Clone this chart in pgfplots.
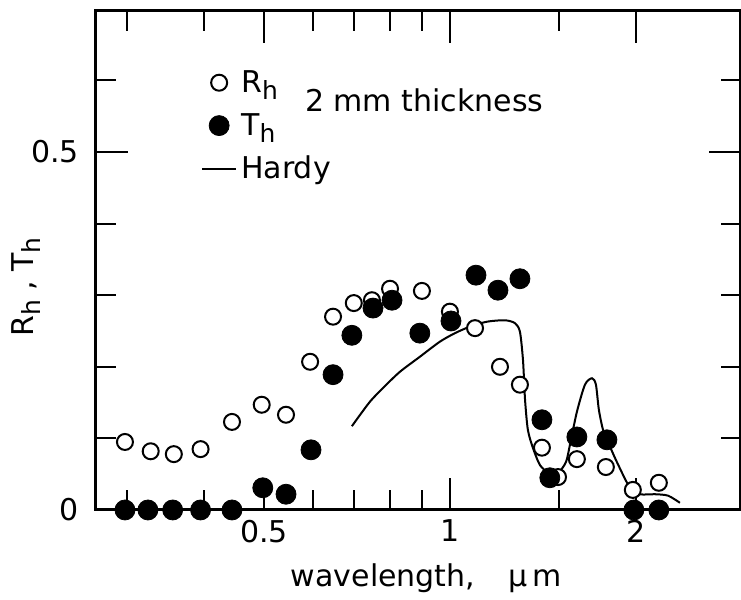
\documentclass[border=0pt]{standalone}
\usepackage{fontspec}
\setmainfont{DejaVu Sans}
\usepackage{pgfplots}
\pgfplotsset{compat=1.18}
\usetikzlibrary{calc}

\newcommand{\lbl}{\fontsize{15}{18}\selectfont}
\newcommand{\sub}[1]{\raisebox{-0.45ex}{\fontsize{12.5}{13}\selectfont #1}}

\begin{document}
\begin{tikzpicture}
\begin{axis}[
  scale only axis,
  width=322.5pt, height=249.5pt,
  xmode=log,
  xmin=0.2675, xmax=2.958,
  ymin=0, ymax=0.697,
  xtick={0.5,1,2}, xticklabels={0.5,1,2},
  minor xtick={0.3,0.4,0.6,0.7,0.8,0.9,1.5},
  ytick={0,0.5}, yticklabels={0,0.5},
  minor ytick={0.1,0.2,0.3,0.4,0.6},
  major tick length=16pt, minor tick length=10pt,
  every tick/.style={black, line width=1pt},
  axis line style={line width=1.5pt},
  tick label style={font=\lbl},
  xticklabel style={yshift=-1.5pt},
  yticklabel style={xshift=-5pt},
  label style={font=\lbl},
  xlabel={wavelength,\hspace{1.1em}µ\,m},
  xlabel style={at={(axis description cs:0.512,-0.136)}, anchor=center},
  ylabel={R\sub{h} , T\sub{h}},
  ylabel style={at={(axis description cs:-0.1085,0.447)}, anchor=center},
  legend style={at={(rel axis cs:0.153,0.898)}, anchor=north west,
    draw=none, fill=none, font=\lbl, row sep=5pt},
  legend cell align=left,
  clip=false,
]
% Hardy curve
\addplot[black, line width=1pt, smooth, tension=0.45, forget plot] coordinates {
  (0.694,0.117) (0.742,0.151) (0.785,0.173) (0.830,0.193) (0.894,0.214)
  (0.963,0.235) (1.019,0.247) (1.077,0.256) (1.148,0.263) (1.227,0.265)
  (1.274,0.261) (1.298,0.249) (1.313,0.209) (1.323,0.154) (1.337,0.112)
  (1.362,0.087) (1.398,0.063) (1.440,0.053) (1.496,0.052) (1.541,0.067)
  (1.564,0.091) (1.605,0.137) (1.654,0.175) (1.698,0.184) (1.723,0.175)
  (1.742,0.140) (1.769,0.112) (1.802,0.095) (1.863,0.067) (1.956,0.031)
  (2.030,0.022) (2.147,0.022) (2.254,0.020) (2.356,0.010)
};
% R_h (open)
\addplot[only marks, mark=*, mark size=4pt,
  mark options={fill=white, draw=black, line width=1pt}] coordinates {
  (0.298,0.095) (0.328,0.082) (0.3575,0.078) (0.395,0.085) (0.444,0.123)
  (0.496,0.147) (0.543,0.133) (0.594,0.207) (0.647,0.270) (0.699,0.289)
  (0.748,0.293) (0.800,0.309) (0.901,0.306) (1.000,0.277) (1.098,0.254)
  (1.205,0.200) (1.298,0.175) (1.409,0.087) (1.496,0.046) (1.605,0.071)
  (1.788,0.060) (1.977,0.028) (2.178,0.038)
};
\addlegendentry{R\sub{h}}
% T_h (filled)
\addplot[only marks, mark=*, mark size=5pt,
  mark options={fill=black, draw=black}] coordinates {
  (0.298,0) (0.3246,0) (0.356,0) (0.395,0) (0.444,0)
  (0.498,0.031) (0.543,0.022) (0.596,0.084) (0.647,0.189) (0.694,0.244)
  (0.751,0.282) (0.806,0.293) (0.894,0.247) (1.004,0.264) (1.102,0.328)
  (1.196,0.307) (1.298,0.323) (1.409,0.126) (1.451,0.045) (1.605,0.102)
  (1.795,0.098) (1.985,0) (2.178,0)
};
\addlegendentry{T\sub{h}}
\addlegendimage{black, line width=1pt, no markers}
\addlegendentry{Hardy}
\node[font=\lbl] at (rel axis cs:0.509,0.82) {2 mm thickness};
\coordinate (ll) at (rel axis cs:0,0);
\coordinate (ur) at (rel axis cs:1,1);
\end{axis}
\pgfresetboundingbox
\path[use as bounding box] ($(ll)+(-48pt,-45pt)$) rectangle ($(ur)+(0pt,5.5pt)$);
\end{tikzpicture}
\end{document}
